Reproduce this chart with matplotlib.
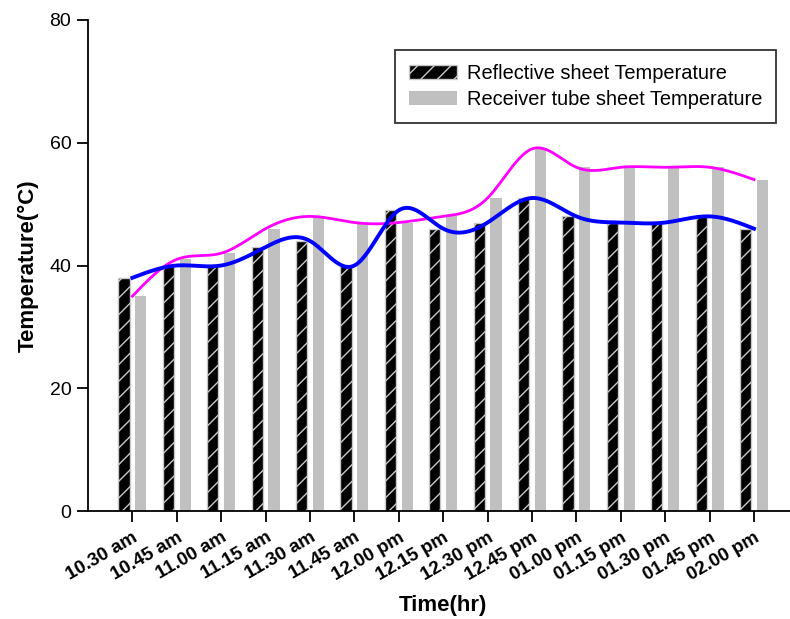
import numpy as np
import matplotlib
matplotlib.use("Agg")
import matplotlib.pyplot as plt

plt.rcParams["font.family"] = ["Liberation Sans", "DejaVu Sans"]

# data
times = ["10.30 am", "10.45 am", "11.00 am", "11.15 am", "11.30 am",
         "11.45 am", "12.00 pm", "12.15 pm", "12.30 pm", "12.45 pm",
         "01.00 pm", "01.15 pm", "01.30 pm", "01.45 pm", "02.00 pm"]
reflective = [38, 40, 40, 43, 44, 40, 49, 46, 47, 51, 48, 47, 47, 48, 46]
receiver = [35, 41, 42, 46, 48, 47, 47, 48, 51, 59, 56, 56, 56, 56, 54]


def natural_spline(x, y, n=400):
    """smooth curve through the points (natural cubic spline)"""
    x = np.asarray(x, float)
    y = np.asarray(y, float)
    k = len(x)
    h = np.diff(x)
    A = np.zeros((k, k))
    b = np.zeros(k)
    A[0, 0] = A[-1, -1] = 1.0
    for i in range(1, k - 1):
        A[i, i - 1] = h[i - 1]
        A[i, i] = 2 * (h[i - 1] + h[i])
        A[i, i + 1] = h[i]
        b[i] = 6 * ((y[i + 1] - y[i]) / h[i] - (y[i] - y[i - 1]) / h[i - 1])
    M = np.linalg.solve(A, b)
    xs = np.linspace(x[0], x[-1], n)
    idx = np.clip(np.searchsorted(x, xs) - 1, 0, k - 2)
    x0, x1 = x[idx], x[idx + 1]
    hh = x1 - x0
    ys = (M[idx] * (x1 - xs) ** 3 / (6 * hh) + M[idx + 1] * (xs - x0) ** 3 / (6 * hh)
          + (y[idx] / hh - M[idx] * hh / 6) * (x1 - xs)
          + (y[idx + 1] / hh - M[idx + 1] * hh / 6) * (xs - x0))
    return xs, ys


x = np.arange(len(times))
w = 0.25
off = 0.19

fig = plt.figure(figsize=(7.9, 6.19), dpi=100)
ax = fig.add_axes([88 / 790, 1 - 511 / 619, 1 - 88 / 790, 491 / 619])

ax.bar(x - off, reflective, width=w, color="black", edgecolor="#c8c8c8",
       hatch="//", linewidth=1.0, label="Reflective sheet Temperature", zorder=2)
ax.bar(x + off, receiver, width=w, color="#c0c0c0", linewidth=0,
       label="Receiver tube sheet Temperature", zorder=2)

xs, ys = natural_spline(x, receiver)
ax.plot(xs, ys, color="#ff00ff", lw=2.0, zorder=3)
xs, ys = natural_spline(x, reflective)
ax.plot(xs, ys, color="#0000ff", lw=2.8, zorder=4)

ax.set_xlim(-1, -1 + 702 / 44.4)
ax.set_ylim(0, 80)
ax.set_yticks([0, 20, 40, 60, 80])
ax.set_xticks(x)
ax.set_xticklabels(times, rotation=30, ha="right", va="top",
                   rotation_mode="anchor", fontweight="bold", fontsize=13.5)
ax.tick_params(axis="x", length=8, width=1.3, pad=5)
ax.tick_params(axis="y", length=8, width=1.3, labelsize=14, pad=4)

for s in ["top", "right"]:
    ax.spines[s].set_visible(False)
for s in ["left", "bottom"]:
    ax.spines[s].set_linewidth(1.3)

ax.set_xlabel("Time(hr)", fontsize=16, fontweight="bold")
ax.xaxis.set_label_coords(0.505, -0.172)
ax.set_ylabel("Temperature(°C)", fontsize=16, fontweight="bold", labelpad=8)

leg = ax.legend(loc="upper right", bbox_to_anchor=(0.98, 0.939), borderaxespad=0,
                fontsize=14.4, frameon=True, fancybox=False, handlelength=2.4,
                handletextpad=0.5, borderpad=0.7, labelspacing=0.35)
leg.get_frame().set_edgecolor("black")
leg.get_frame().set_linewidth(1.3)

fig.savefig("out.png", dpi=100)
